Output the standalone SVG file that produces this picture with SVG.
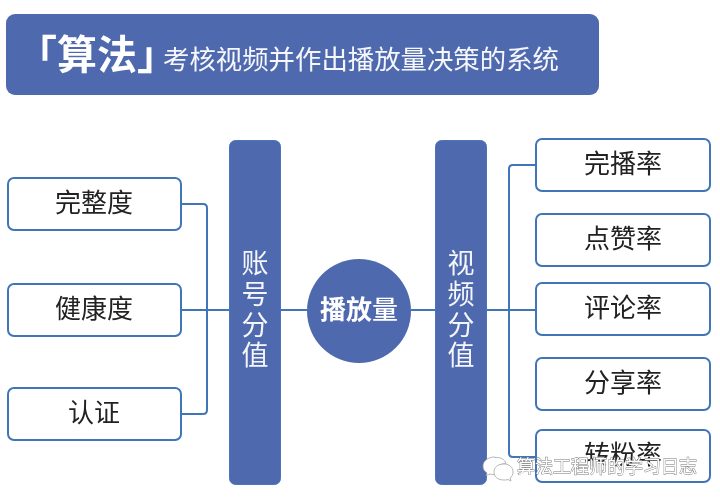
<svg xmlns="http://www.w3.org/2000/svg" width="720" height="499" viewBox="0 0 720 499">
<style>
text{font-family:"Noto Sans CJK SC","Noto Sans",sans-serif;text-anchor:middle}
.bar{fill:#4f69ae;stroke:#4a74bd;stroke-width:1}
.box{fill:#fff;stroke:#3f74b8;stroke-width:2}
.lbl{font-size:26px;fill:#222}
.w{fill:#fff}
.v{font-size:27px;fill:#f4f6fb}
.wm{font-size:18px;fill:#fff;stroke:#777;stroke-width:.9;paint-order:stroke}
.con{fill:none;stroke:#3f74b8;stroke-width:2}
</style>
<defs><filter id="s" x="-5%" y="-5%" width="110%" height="110%"><feGaussianBlur stdDeviation="0.35"/></filter></defs>
<rect width="720" height="499" fill="#fff"/>
<g filter="url(#s)">
<g id="title">
<rect x="6" y="14" width="593" height="81" rx="9" fill="#4f69ae"/>
<text x="97" y="69" class="w" font-size="40" font-weight="700">「算法」</text>
<text x="361" y="69" class="w" font-size="26.400" fill-opacity=".95">考核视频并作出播放量决策的系统</text>
</g>
<g id="connectors">
<path class="con" d="M181 204H203Q207 204 207 208V410Q207 414 203 414H181"/>
<path class="con" d="M181 310H229M281 310H307M411 310H435M487 310H536"/>
<path class="con" d="M536 165H513Q509 165 509 169V453Q509 457 513 457H536"/>
</g>
<g id="node-wanzhengdu"><rect class="box" x="8" y="178" width="173" height="52" rx="6"/><text class="lbl" x="94" y="212">完整度</text></g>
<g id="node-jiankangdu"><rect class="box" x="8" y="284" width="173" height="52" rx="6"/><text class="lbl" x="94" y="318">健康度</text></g>
<g id="node-renzheng"><rect class="box" x="8" y="388" width="173" height="52" rx="6"/><text class="lbl" x="94" y="422">认证</text></g>
<g id="node-account"><rect class="bar" x="229.500" y="140.500" width="51" height="344" rx="6"/>
<text class="v"><tspan x="255" y="273">账</tspan><tspan x="255" y="304">号</tspan><tspan x="255" y="335">分</tspan><tspan x="255" y="365">值</tspan></text></g>
<g id="node-play"><circle cx="359" cy="311" r="52" fill="#4f69ae"/>
<text x="359" y="319" class="w" font-size="26"><tspan font-weight="700">播放</tspan><tspan font-weight="500">量</tspan></text></g>
<g id="node-video"><rect class="bar" x="435.500" y="140.500" width="51" height="344" rx="6"/>
<text class="v"><tspan x="461" y="273">视</tspan><tspan x="461" y="304">频</tspan><tspan x="461" y="335">分</tspan><tspan x="461" y="365">值</tspan></text></g>
<g id="node-wanbo"><rect class="box" x="536" y="139" width="174" height="52" rx="6"/><text class="lbl" x="623" y="173">完播率</text></g>
<g id="node-dianzan"><rect class="box" x="536" y="214" width="174" height="52" rx="6"/><text class="lbl" x="623" y="248">点赞率</text></g>
<g id="node-pinglun"><rect class="box" x="536" y="283" width="174" height="52" rx="6"/><text class="lbl" x="623" y="317">评论率</text></g>
<g id="node-fenxiang"><rect class="box" x="536" y="358" width="174" height="52" rx="6"/><text class="lbl" x="623" y="392">分享率</text></g>
<g id="node-zhuanfen"><rect class="box" x="536" y="430" width="174" height="52" rx="6"/><text class="lbl" x="623" y="464">转粉率</text></g>
<g id="watermark">
<path d="M495 457c-7 0-12 4-12 9 0 3 1 5 4 7l-1 3 4-2c2 .6 4 .8 6 .6-2-6 3-11 10-11-1-4-6-7-11-6z" fill="#fff" stroke="#999" stroke-width=".7"/>
<path d="M504 464c-6 0-10 3-10 8s4 8 10 8c1 0 3 0 4-.5l3 1.500-1-3c2-1.500 3-3.500 3-6 0-5-4-8-9-8z" fill="#fff" stroke="#999" stroke-width=".7"/>
<text class="wm" x="607" y="473">算法工程师的学习日志</text>
</g>
</g>
</svg>
